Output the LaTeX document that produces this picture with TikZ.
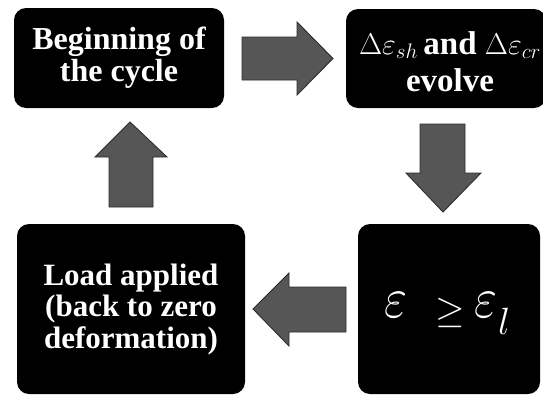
\RequirePackage{fix-cm}
\documentclass[tikz,border=0pt]{standalone}
\usepackage{fontspec}
\setmainfont{Liberation Serif}[BoldFont={* Bold}]
\newfontfamily\tnrbold{Liberation Serif Bold}
\definecolor{arrowgray}{RGB}{86,86,86}
\definecolor{arrowedge}{RGB}{45,45,45}
\begin{document}
\begin{tikzpicture}[x=1pt,y=-1pt,
  box/.style={fill=black, rounded corners=12pt, inner sep=0pt, text=white, align=center},
  blockarrow/.style={fill=arrowgray, draw=arrowedge, line width=0.9pt, line join=miter},
  lbl/.style={text=white, align=center, inner sep=0pt, font=\fontsize{32}{32}\selectfont\tnrbold},
  mth/.style={text=white, inner sep=0pt, font=\fontsize{50}{50}\selectfont}]
\clip (0,0) rectangle (543,394);
\fill[white] (0,0) rectangle (543,394);
% boxes
\node[box, minimum width=210pt, minimum height=100pt] (b1) at (119,58) {};
\node[box, minimum width=200pt, minimum height=99pt] (b2) at (446,58.5) {};
\node[box, minimum width=228pt, minimum height=170pt] (b3) at (131,309) {};
\node[box, minimum width=182pt, minimum height=170pt] (b4) at (449,309) {};
% texts
\node[lbl] (t1) at ([yshift=0.5pt]b1.center) {Beginning of\\the cycle};
\node[lbl, font=\fontsize{33}{37}\selectfont\tnrbold] (t2) at ([xshift=4pt,yshift=-3pt]b2.center)
  {\fontsize{30}{37}\selectfont$\Delta\varepsilon_{sh}$\fontsize{33}{37}\selectfont\,and \fontsize{30}{37}\selectfont$\Delta\varepsilon_{cr}$\\evolve};
\node[lbl, font=\fontsize{31}{31.5}\selectfont\tnrbold] (t3) at ([yshift=-0.5pt]b3.center) {Load applied\\(back to zero\\deformation)};
\node[mth] (e1) at (396,305.5) {\scalebox{1}[1.15]{$\varepsilon$}};
\node[mth, font=\fontsize{38}{38}\selectfont] (ge) at (450,312.5) {$\geq$};
\node[mth] (e2) at (486,305.5) {\scalebox{1}[1.15]{$\varepsilon$}};
\node[mth, font=\fontsize{38}{38}\selectfont] (sub) at (504,321.5) {$l$};
% block arrows
\draw[blockarrow] (242,37) -- (297,37) -- (297,22) -- (333,58.5) -- (297,95) -- (297,80) -- (242,80) -- cycle;
\draw[blockarrow] (420,124) -- (465,124) -- (465,173) -- (481,173) -- (443,212) -- (406,173) -- (420,173) -- cycle;
\draw[blockarrow] (346,287) -- (289,287) -- (289,273) -- (253,309) -- (289,346) -- (289,332) -- (346,332) -- cycle;
\draw[blockarrow] (109,207) -- (109,157) -- (95,157) -- (130,122) -- (167,157) -- (153,157) -- (153,207) -- cycle;
\end{tikzpicture}
\end{document}
